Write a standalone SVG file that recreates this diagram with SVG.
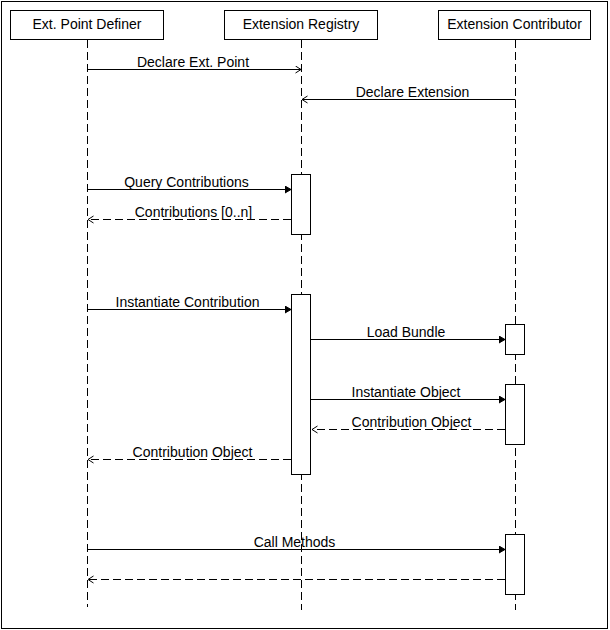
<svg xmlns="http://www.w3.org/2000/svg" width="610" height="630" viewBox="0 0 610 630">
<style>
.box{fill:#fff;stroke:#000;stroke-width:1}
.act{fill:#fff;stroke:#000;stroke-width:1}
.life{stroke:#000;stroke-width:1;stroke-dasharray:8 4;fill:none}
.msg{stroke:#000;stroke-width:1;fill:none}
.ret{stroke:#000;stroke-width:1;fill:none;stroke-dasharray:8 4}
text{font-family:"Liberation Sans",Arial,sans-serif;font-size:14px;fill:#000}
.c{text-anchor:middle}
</style>
<defs>
<marker id="open" markerWidth="8" markerHeight="10" refX="6" refY="4" orient="auto" markerUnits="userSpaceOnUse">
<path d="M0.5,0.5 L6,4 L0.5,7.5" fill="none" stroke="#000" stroke-width="1"/>
</marker>
<marker id="fill" markerWidth="8" markerHeight="10" refX="6" refY="4" orient="auto" markerUnits="userSpaceOnUse">
<path d="M0,0.5 L6,4 L0,7.5 Z" fill="#000" stroke="#000" stroke-width="1"/>
</marker>
</defs>
<rect x="1.5" y="1.5" width="606" height="627" fill="#fff" stroke="#000" stroke-width="1"/>

<g id="lifelines">
<line class="life" x1="87.5" y1="40" x2="87.5" y2="607"/>
<line class="life" x1="301.5" y1="40" x2="301.5" y2="610"/>
<line class="life" x1="515.5" y1="40" x2="515.5" y2="610"/>
</g>

<g id="definer">
<rect class="box" x="10.5" y="10.5" width="153" height="29"/>
<text class="c" x="87" y="29">Ext. Point Definer</text>
</g>
<g id="registry">
<rect class="box" x="224.5" y="10.5" width="153" height="29"/>
<text class="c" x="301" y="29">Extension Registry</text>
</g>
<g id="contributor">
<rect class="box" x="438.5" y="10.5" width="152" height="29"/>
<text class="c" x="514.5" y="29">Extension Contributor</text>
</g>

<g id="activations">
<rect class="act" x="291.5" y="174.5" width="19" height="60"/>
<rect class="act" x="291.5" y="294.5" width="19" height="180"/>
<rect class="act" x="505.5" y="324.5" width="19" height="30"/>
<rect class="act" x="505.5" y="384.5" width="19" height="60"/>
<rect class="act" x="505.5" y="534.5" width="19" height="60"/>
</g>

<g id="connectors">
<line class="msg" x1="87.5" y1="69.5" x2="301" y2="69.5" marker-end="url(#open)"/>
<text class="c" x="193" y="67">Declare Ext. Point</text>

<line class="msg" x1="515.5" y1="99.5" x2="302" y2="99.5" marker-end="url(#open)"/>
<text class="c" x="412.5" y="97">Declare Extension</text>

<line class="msg" x1="87.5" y1="189.5" x2="291" y2="189.5" marker-end="url(#fill)"/>
<text class="c" x="186.5" y="187">Query Contributions</text>

<line class="ret" x1="291" y1="219.5" x2="88" y2="219.5" marker-end="url(#open)"/>
<text class="c" x="193.5" y="217">Contributions [0..n]</text>

<line class="msg" x1="87.5" y1="309.5" x2="291" y2="309.5" marker-end="url(#fill)"/>
<text class="c" x="187.5" y="307">Instantiate Contribution</text>

<line class="msg" x1="311" y1="339.5" x2="505" y2="339.5" marker-end="url(#fill)"/>
<text class="c" x="406" y="337">Load Bundle</text>

<line class="msg" x1="311" y1="399.5" x2="505" y2="399.5" marker-end="url(#fill)"/>
<text class="c" x="406" y="397">Instantiate Object</text>

<line class="ret" x1="505" y1="429.5" x2="312" y2="429.5" marker-end="url(#open)"/>
<text class="c" x="411.5" y="427">Contribution Object</text>

<line class="ret" x1="291" y1="459.5" x2="88" y2="459.5" marker-end="url(#open)"/>
<text class="c" x="192.5" y="457">Contribution Object</text>

<line class="msg" x1="87.5" y1="549.5" x2="505" y2="549.5" marker-end="url(#fill)"/>
<text class="c" x="294.5" y="547">Call Methods</text>

<line class="ret" x1="505" y1="579.5" x2="88" y2="579.5" marker-end="url(#open)"/>
</g>
</svg>
